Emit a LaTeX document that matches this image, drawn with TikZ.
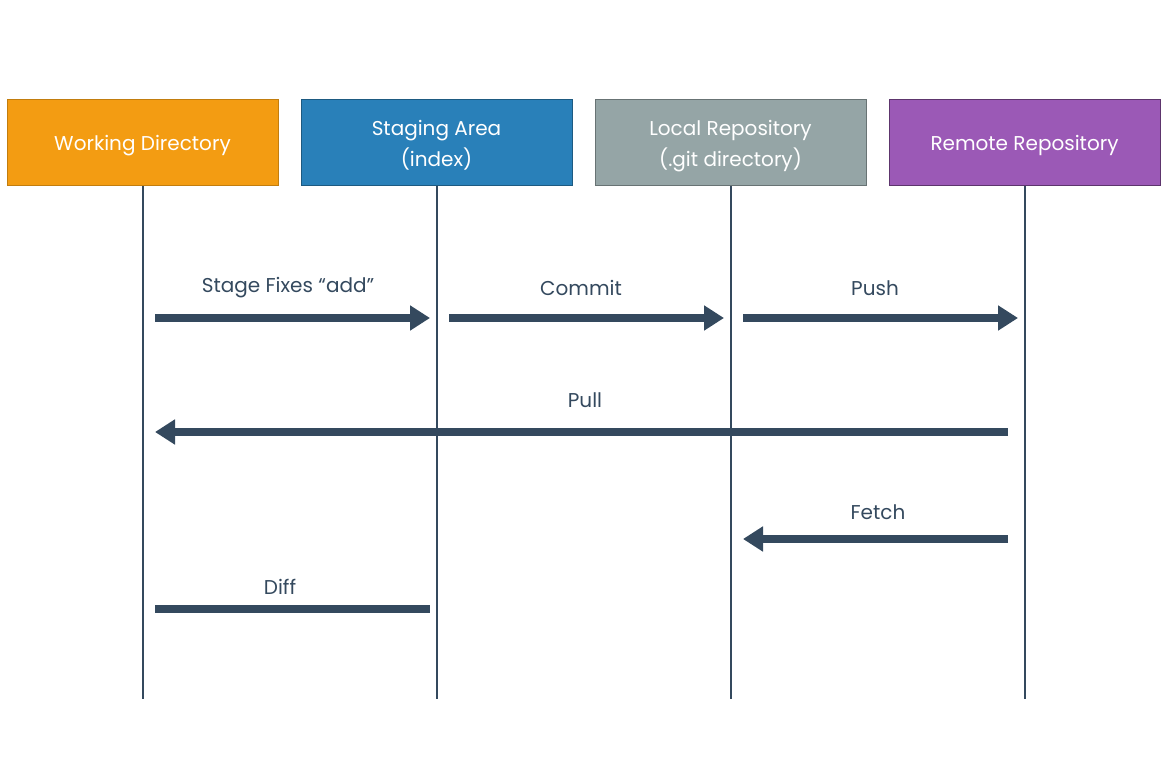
\documentclass[tikz,border=0pt]{standalone}
\usepackage{fontspec}
\setmainfont{Poppins}
\usetikzlibrary{arrows.meta}
\definecolor{wdorange}{HTML}{F39C12}
\definecolor{sablue}{HTML}{2980B9}
\definecolor{lrgray}{HTML}{95A5A6}
\definecolor{rrpurple}{HTML}{9B59B6}
\definecolor{slate}{HTML}{34495E}

\tikzset{
    areabox/.style={minimum width=271pt, minimum height=86pt, inner sep=0pt, align=center, text=white, text depth=0pt, font=\fontsize{20}{31}\selectfont, line width=1pt},
    lifeline/.style={slate, line width=2pt},
    flow/.style={slate, line width=8pt, -{Triangle[length=20pt, width=24pt]}},
    flowlabel/.style={text=slate, font=\fontsize{20}{24}\selectfont}
}

\begin{document}
\begin{tikzpicture}[x=1pt, y=-1pt]
        \useasboundingbox (0,0) rectangle (1170,767);

        % zones
        \node[areabox, fill=wdorange, draw=wdorange!80!black] (wd) at (142.5,143) {Working Directory};
        \node[areabox, fill=sablue, draw=sablue!70!black] (sa) at (436.5,143) {Staging Area\\(index)};
        \node[areabox, fill=lrgray, draw=lrgray!70!black] (lr) at (730.5,143) {Local Repository\\(.git directory)};
        \node[areabox, fill=rrpurple, draw=rrpurple!60!black] (rr) at (1024.5,143) {Remote Repository};

        % lifelines
        \coordinate (wd-end) at (143,699);
        \coordinate (sa-end) at (437,699);
        \coordinate (lr-end) at (731,699);
        \coordinate (rr-end) at (1025,699);
        \draw[lifeline] (wd.south -| wd-end) -- (wd-end);
        \draw[lifeline] (sa.south -| sa-end) -- (sa-end);
        \draw[lifeline] (lr.south -| lr-end) -- (lr-end);
        \draw[lifeline] (rr.south -| rr-end) -- (rr-end);

        % stage, commit, push
        \coordinate (add-a) at (155,318);
        \coordinate (add-b) at (430,318);
        \coordinate (commit-a) at (449,318);
        \coordinate (commit-b) at (724,318);
        \coordinate (push-a) at (743,318);
        \coordinate (push-b) at (1018,318);
        \draw[flow] (add-a) -- (add-b);
        \draw[flow] (commit-a) -- (commit-b);
        \draw[flow] (push-a) -- (push-b);
        \node[flowlabel] (add-lbl) at (288,288) {Stage Fixes “add”};
        \node[flowlabel] (commit-lbl) at (581,288) {Commit};
        \node[flowlabel] (push-lbl) at (875,288) {Push};

        % pull
        \coordinate (pull-a) at (1008,432);
        \coordinate (pull-b) at (155,432);
        \draw[flow] (pull-a) -- (pull-b);
        \node[flowlabel] (pull-lbl) at (585,400) {Pull};

        % fetch
        \coordinate (fetch-a) at (1008,539);
        \coordinate (fetch-b) at (743,539);
        \draw[flow] (fetch-a) -- (fetch-b);
        \node[flowlabel] (fetch-lbl) at (878,512) {Fetch};

        % diff
        \coordinate (diff-a) at (155,609);
        \coordinate (diff-b) at (430,609);
        \draw[slate, line width=8pt] (diff-a) -- (diff-b);
        \node[flowlabel] (diff-lbl) at (280,587) {Diff};
\end{tikzpicture}
\end{document}
